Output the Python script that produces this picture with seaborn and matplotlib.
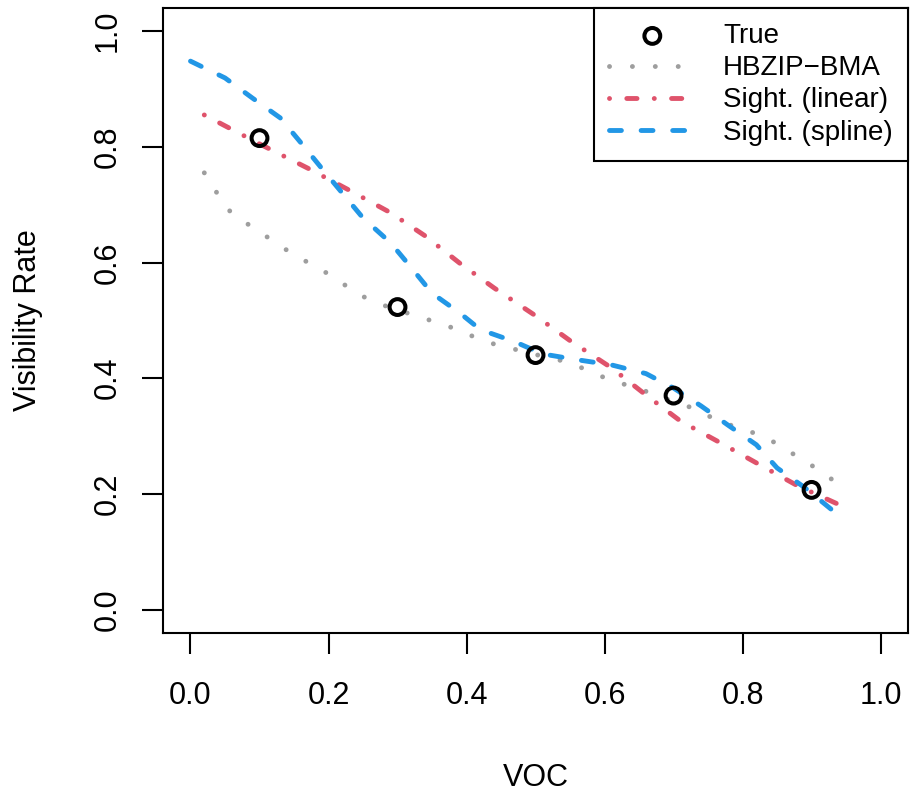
import matplotlib
matplotlib.use("Agg")
import matplotlib.pyplot as plt
import seaborn as sns

# observed points
true_x = [0.1, 0.3, 0.5, 0.7, 0.9]
true_y = [0.815, 0.523, 0.44, 0.37, 0.207]

# HBZIP-BMA estimate
bma_x = [0.02, 0.04, 0.06, 0.09, 0.12, 0.15, 0.18, 0.21, 0.24, 0.27, 0.30, 0.34,
         0.38, 0.41, 0.44, 0.48, 0.51, 0.55, 0.58, 0.61, 0.65, 0.68, 0.72, 0.75,
         0.78, 0.82, 0.85, 0.88, 0.91, 0.94]
bma_y = [0.755, 0.717, 0.684, 0.661, 0.637, 0.613, 0.594, 0.573, 0.547, 0.530,
         0.518, 0.503, 0.487, 0.472, 0.459, 0.447, 0.438, 0.427, 0.411, 0.396,
         0.382, 0.368, 0.352, 0.335, 0.320, 0.304, 0.287, 0.264, 0.242, 0.216]

# Sight. (linear)
lin_x = [0.02, 0.10, 0.17, 0.23, 0.29, 0.34, 0.39, 0.44, 0.50, 0.55, 0.61, 0.66,
         0.71, 0.77, 0.83, 0.88, 0.95]
lin_y = [0.855, 0.805, 0.763, 0.725, 0.686, 0.646, 0.599, 0.556, 0.508, 0.465,
         0.418, 0.371, 0.326, 0.287, 0.247, 0.214, 0.176]

# Sight. (spline)
spl_x = [0.00, 0.05, 0.09, 0.13, 0.16, 0.19, 0.22, 0.25, 0.29, 0.32, 0.35, 0.39,
         0.42, 0.47, 0.51, 0.56, 0.61, 0.66, 0.70, 0.74, 0.78, 0.82, 0.85, 0.89,
         0.93]
spl_y = [0.948, 0.919, 0.884, 0.850, 0.807, 0.763, 0.720, 0.677, 0.634, 0.591,
         0.547, 0.513, 0.484, 0.463, 0.442, 0.432, 0.423, 0.408, 0.383, 0.352,
         0.318, 0.285, 0.245, 0.211, 0.172]

ticks = [0.0, 0.2, 0.4, 0.6, 0.8, 1.0]
tick_labels = ["0.0", "0.2", "0.4", "0.6", "0.8", "1.0"]

sns.set_style("white")
plt.rcParams['font.family'] = ['Liberation Sans', 'DejaVu Sans']
plt.rcParams['text.color'] = 'black'
plt.rcParams['axes.labelcolor'] = 'black'

fig = plt.figure(figsize=(9.1, 7.92), dpi=100)
ax = fig.add_axes([0.179, 0.201, 0.819, 0.789])

lw = 3.5
gray, red, blue = "#9E9E9E", "#DF536B", "#2297E6"

sns.scatterplot(x=true_x, y=true_y, ax=ax, marker="o", s=130, facecolor="none",
                edgecolor="black", linewidth=2.9, label="True", zorder=5)
sns.lineplot(x=bma_x, y=bma_y, ax=ax, color=gray, lw=lw, label="HBZIP\u2212BMA",
             linestyle=(0, (0.01, 4.7)), dash_capstyle="round", sort=False)
sns.lineplot(x=lin_x, y=lin_y, ax=ax, color=red, lw=lw, label="Sight. (linear)",
             linestyle=(0, (0.01, 3.55, 2.1, 3.55)), dash_capstyle="round", sort=False)
sns.lineplot(x=spl_x, y=spl_y, ax=ax, color=blue, lw=lw, label="Sight. (spline)",
             linestyle=(0, (2.45, 4.05)), dash_capstyle="round", sort=False)

ax.set_xlim(-0.04, 1.04)
ax.set_ylim(-0.04, 1.04)
ax.set_xticks(ticks)
ax.set_xticklabels(tick_labels)
ax.set_yticks(ticks)
ax.set_yticklabels(tick_labels, rotation=90, va="center")
ax.tick_params(axis="both", direction="out", length=15, width=1.5, labelsize=22,
               bottom=True, left=True, colors="black")
ax.tick_params(axis="x", pad=20)
ax.tick_params(axis="y", pad=14)
for sp in ax.spines.values():
    sp.set_visible(True)
    sp.set_color("black")
    sp.set_linewidth(1.5)
ax.set_xlabel("VOC", fontsize=22, labelpad=37)
ax.set_ylabel("Visibility Rate", fontsize=22, labelpad=36)

leg = ax.legend(loc="upper right", fontsize=20, frameon=True, fancybox=False,
                edgecolor="black", framealpha=1, borderaxespad=0,
                handlelength=3.1, labelspacing=0.22, handletextpad=1.0,
                borderpad=0.55)
leg.get_frame().set_linewidth(1.5)

fig.savefig("out.png", dpi=100)
